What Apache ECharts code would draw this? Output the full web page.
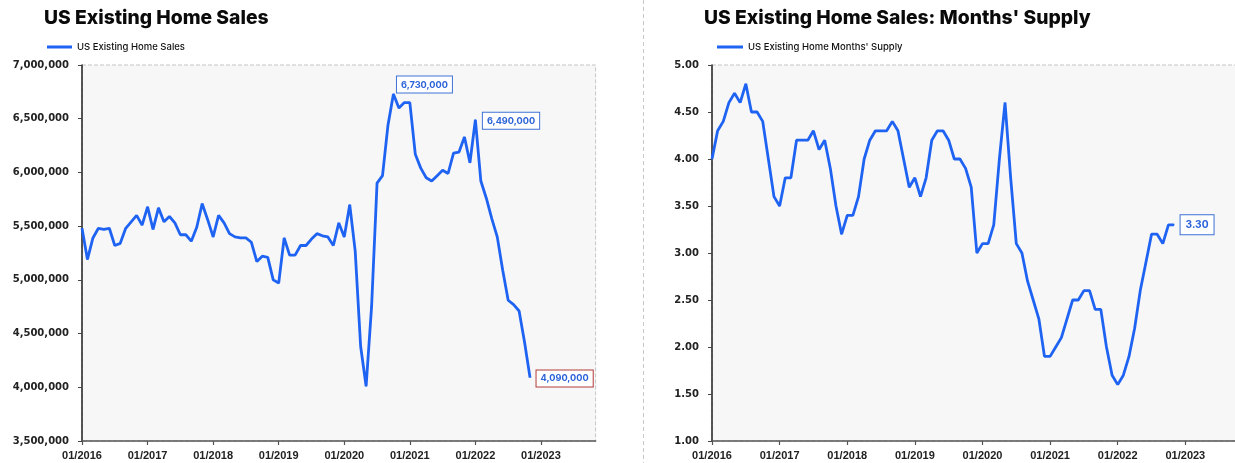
<!DOCTYPE html>
<html><head><meta charset="utf-8">
<script src="https://cdn.jsdelivr.net/npm/echarts@6/dist/echarts.min.js"></script>
<style>html,body{margin:0;padding:0;background:#fff}#c{width:1235px;height:463px}</style>
</head><body><div id="c"></div><script>
const salesTitle = 'US Existing Home Sales';
const supplyTitle = "US Existing Home Sales: Months' Supply";
const salesName = 'US Existing Home Sales';
const supplyName = "US Existing Home Months' Supply";

// monthly categories Jan 2016 .. Nov 2023 (axis extends past the data)
const startYear = 2016, monthCount = 95;
const months = [];
for (let i = 0; i < monthCount; i++) {
  const m = i % 12 + 1;
  months.push((m < 10 ? '0' : '') + m + '/' + (startYear + Math.floor(i / 12)));
}

// Jan 2016 .. Nov 2022, SAAR units
const salesValues = [
  5480000, 5190000, 5390000, 5480000, 5470000, 5480000, 5320000, 5340000, 5480000, 5540000, 5600000, 5510000,
  5680000, 5470000, 5670000, 5540000, 5590000, 5530000, 5420000, 5420000, 5360000, 5490000, 5710000, 5560000,
  5400000, 5600000, 5530000, 5430000, 5400000, 5390000, 5390000, 5350000, 5170000, 5220000, 5210000, 5000000,
  4970000, 5390000, 5230000, 5230000, 5320000, 5320000, 5380000, 5430000, 5410000, 5400000, 5320000, 5530000,
  5400000, 5700000, 5270000, 4380000, 4010000, 4750000, 5900000, 5970000, 6440000, 6730000, 6600000, 6650000,
  6650000, 6170000, 6040000, 5950000, 5920000, 5970000, 6020000, 5990000, 6180000, 6190000, 6330000, 6090000,
  6490000, 5920000, 5760000, 5570000, 5400000, 5090000, 4810000, 4770000, 4710000, 4420000, 4090000
];
const supplyValues = [
  4.00, 4.30, 4.40, 4.60, 4.70, 4.60, 4.80, 4.50, 4.50, 4.40, 4.00, 3.60,
  3.50, 3.80, 3.80, 4.20, 4.20, 4.20, 4.30, 4.10, 4.20, 3.90, 3.50, 3.20,
  3.40, 3.40, 3.60, 4.00, 4.20, 4.30, 4.30, 4.30, 4.40, 4.30, 4.00, 3.70,
  3.80, 3.60, 3.80, 4.20, 4.30, 4.30, 4.20, 4.00, 4.00, 3.90, 3.70, 3.00,
  3.10, 3.10, 3.30, 4.00, 4.60, 3.80, 3.10, 3.00, 2.70, 2.50, 2.30, 1.90,
  1.90, 2.00, 2.10, 2.30, 2.50, 2.50, 2.60, 2.60, 2.40, 2.40, 2.00, 1.70,
  1.60, 1.70, 1.90, 2.20, 2.60, 2.90, 3.20, 3.20, 3.10, 3.30, 3.30
];
const salesAxisMin = 3500000, salesAxisMax = 7000000, salesAxisStep = 500000;
const supplyAxisMin = 1, supplyAxisMax = 5, supplyAxisStep = 0.5;
const salesCalloutIdx = [57, 72, 82];
const supplyCalloutIdx = [82];

const BLUE = '#1f63f3';
const fmtSales = v => Number(v).toLocaleString('en-US');
const fmtSupply = v => Number(v).toFixed(2);

function boxLabel(border, fmt, extra) {
  return Object.assign({
    show: true,
    formatter: p => fmt(p.value),
    color: '#2a62d8', fontFamily: 'Inter', fontWeight: 700, fontSize: 9.2, lineHeight: 11,
    backgroundColor: '#fff', borderColor: border, borderWidth: 1, padding: [3, 4, 2, 4]
  }, extra);
}
const salesLabelCfg = {
  57: boxLabel('#3f72d6', fmtSales, {position: 'top', distance: 1, offset: [31, 0]}),
  72: boxLabel('#3f72d6', fmtSales, {position: 'right', distance: 7, offset: [0, 1]}),
  82: boxLabel('#b33a3a', fmtSales, {position: 'right', distance: 6, offset: [0, 1]})
};
const supplyLabelCfg = {
  82: boxLabel('#3f72d6', fmtSupply, {position: 'right', distance: 6, fontSize: 10.2, lineHeight: 12, padding: [4, 5, 3, 5]})
};
function withLabels(values, idxs, cfg) {
  return values.map((v, i) => idxs.indexOf(i) >= 0 ? {value: v, label: cfg[i]} : v);
}

const axisLabelX = {interval: 11, margin: 9, fontFamily: 'Liberation Sans', fontWeight: 700, fontSize: 11, color: '#222'};
const axisLabelY = {margin: 13, fontFamily: 'DejaVu Sans', fontWeight: 700, fontSize: 10, color: '#222'};
const gridStyle = {show: true, backgroundColor: '#f7f7f7', borderColor: '#c4c4c4', borderWidth: 1, borderType: 'dashed', outerBoundsMode: 'none', containLabel: false};

const chart = echarts.init(document.getElementById('c'), null, {renderer: 'canvas'});
chart.setOption({
  animation: false,
  backgroundColor: '#fff',
  title: [
    {text: salesTitle, left: 44, top: 9, padding: 0, textStyle: {fontFamily: 'Inter', fontWeight: 800, fontSize: 19.3, color: '#0a0a0a'}},
    {text: supplyTitle, left: 704, top: 9, padding: 0, textStyle: {fontFamily: 'Inter', fontWeight: 800, fontSize: 19.3, color: '#0a0a0a'}}
  ],
  legend: [
    {data: [salesName], left: 47, top: 42, padding: 0, icon: 'rect', itemWidth: 25, itemHeight: 3,
     textStyle: {fontFamily: 'Inter', fontSize: 9.5, fontWeight: 500, color: '#111'}},
    {data: [supplyName], left: 717, top: 42, padding: 0, icon: 'rect', itemWidth: 26, itemHeight: 3,
     textStyle: {fontFamily: 'Inter', fontSize: 9.5, fontWeight: 500, color: '#111'}}
  ],
  grid: [
    Object.assign({left: 82, top: 65, width: 513.6, height: 376}, gridStyle),
    Object.assign({left: 712, top: 65, width: 529.7, height: 376}, gridStyle)
  ],
  xAxis: [0, 1].map(g => ({
    type: 'category', gridIndex: g, data: months, boundaryGap: false,
    axisLine: {lineStyle: {color: '#555', width: 1.5}},
    axisTick: {interval: 11, length: 4, lineStyle: {color: '#555', width: 1.2}},
    axisLabel: axisLabelX,
    splitLine: {show: false}
  })),
  yAxis: [
    {type: 'value', gridIndex: 0, min: salesAxisMin, max: salesAxisMax, interval: salesAxisStep,
     axisLine: {show: true, lineStyle: {color: '#222', width: 1.5}},
     axisTick: {show: true, length: 4, lineStyle: {color: '#444'}},
     axisLabel: Object.assign({formatter: fmtSales}, axisLabelY), splitLine: {show: false}},
    {type: 'value', gridIndex: 1, min: supplyAxisMin, max: supplyAxisMax, interval: supplyAxisStep,
     axisLine: {show: true, lineStyle: {color: '#222', width: 1.5}},
     axisTick: {show: true, length: 4, lineStyle: {color: '#444'}},
     axisLabel: Object.assign({formatter: fmtSupply}, axisLabelY), splitLine: {show: false}}
  ],
  series: [
    {name: salesName, type: 'line', xAxisIndex: 0, yAxisIndex: 0,
     data: withLabels(salesValues, salesCalloutIdx, salesLabelCfg),
     showSymbol: true, showAllSymbol: true, symbol: 'circle', symbolSize: 1,
     itemStyle: {color: BLUE}, lineStyle: {color: BLUE, width: 2.8}, emphasis: {disabled: true}},
    {name: supplyName, type: 'line', xAxisIndex: 1, yAxisIndex: 1,
     data: withLabels(supplyValues, supplyCalloutIdx, supplyLabelCfg),
     showSymbol: true, showAllSymbol: true, symbol: 'circle', symbolSize: 1,
     itemStyle: {color: BLUE}, lineStyle: {color: BLUE, width: 2.8}, emphasis: {disabled: true}}
  ],
  graphic: [
    {type: 'line', shape: {x1: 643.5, y1: 0, x2: 643.5, y2: 463}, style: {stroke: '#c8c8c8', lineWidth: 1, lineDash: [4, 3]}, silent: true}
  ]
});
</script></body></html>
